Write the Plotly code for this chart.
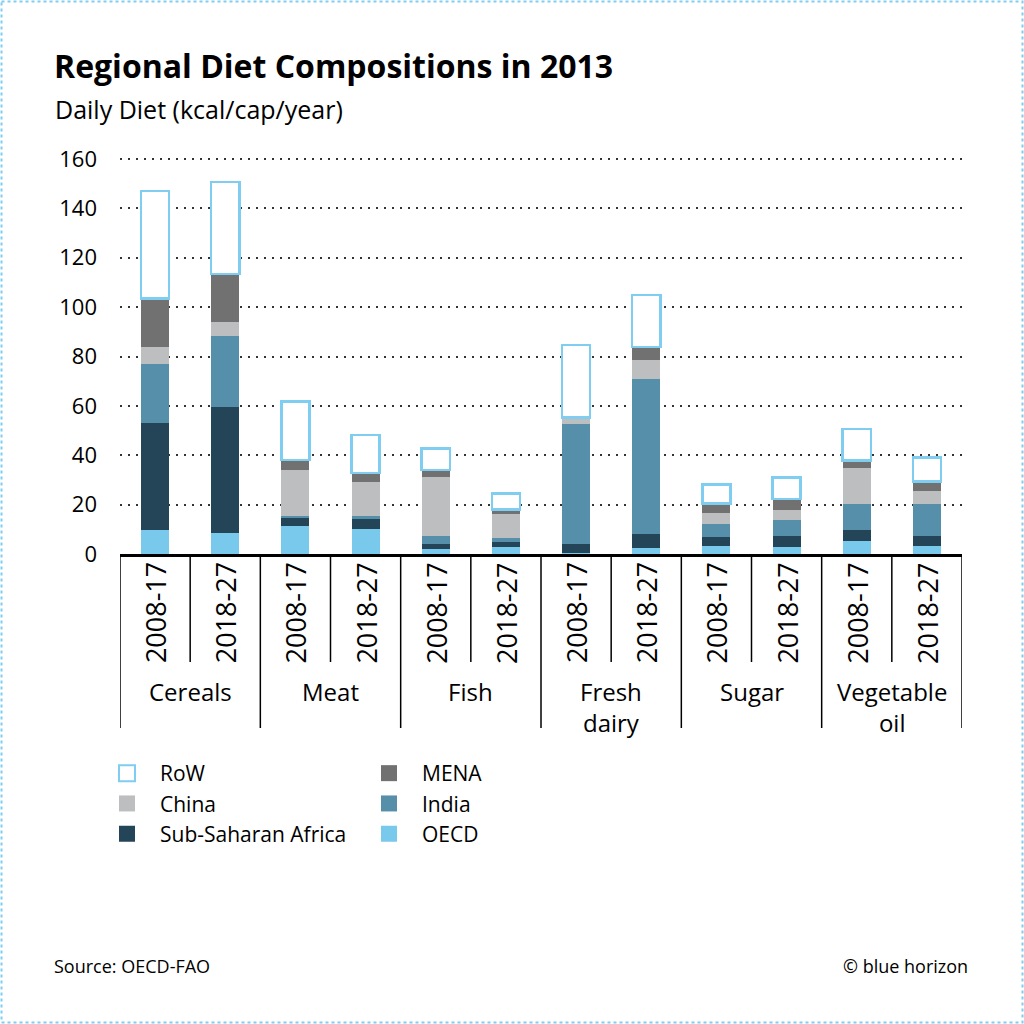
import plotly.graph_objects as go

categories = ["Cereals", "Meat", "Fish", "Fresh dairy", "Sugar", "Vegetable oil"]
category_labels = ["Cereals", "Meat", "Fish", "Fresh<br>dairy", "Sugar", "Vegetable<br>oil"]
periods = ["2008-17", "2018-27"]

# kcal/cap/year, order: each category x (2008-17, 2018-27)
oecd = [9.7, 8.6, 11.3, 10.3, 1.9, 2.7, 0.6, 2.4, 3.2, 3.0, 5.3, 3.2]
ssa = [43.5, 50.8, 3.6, 3.7, 2.1, 2.3, 3.4, 5.7, 3.6, 4.4, 4.3, 4.2]
india = [23.6, 28.9, 0.6, 1.5, 3.4, 1.6, 48.6, 62.9, 5.3, 6.4, 10.5, 12.7]
china = [6.9, 5.7, 18.5, 13.5, 23.6, 9.7, 2.6, 7.5, 4.4, 4.0, 14.6, 5.5]
mena = [19.8, 19.4, 4.0, 3.9, 3.0, 1.8, 0.0, 5.4, 4.0, 4.5, 3.1, 3.7]
row = [43.5, 37.3, 23.7, 15.3, 8.8, 6.5, 29.4, 21.0, 7.7, 8.7, 12.9, 9.7]

FONT = "Open Sans"
LIGHT_BLUE = "#7fcdf0"

x_keys = [c + " " + p for c in categories for p in periods]

# plot area in pixels (value 0 at y=554, value 160 at y=159)
L, R, T, B = 120, 962, 155, 554
W, H = 1024, 1024
Y_MAX = 160 * (B - T) / (B - 159)


def px(x):
    return (x - L) / (R - L)


def py(y):
    return (B - y) / (B - T)


series = [
    ("OECD", oecd, "#79c9ec", None),
    ("Sub-Saharan Africa", ssa, "#244457", None),
    ("India", india, "#568faa", None),
    ("China", china, "#bdbebf", None),
    ("MENA", mena, "#717171", None),
    ("RoW", row, "white", LIGHT_BLUE),
]

fig = go.Figure()
for name, vals, color, line in series:
    fig.add_trace(go.Bar(
        x=x_keys, y=vals, name=name, width=0.4, showlegend=False,
        marker=dict(color=color,
                    line=dict(color=line if line else color, width=2.5 if line else 0)),
    ))

# legend entries (two columns)
legend_layout = [
    ("RoW", "legend", 1), ("China", "legend", 2), ("Sub-Saharan Africa", "legend", 3),
    ("MENA", "legend2", 1), ("India", "legend2", 2), ("OECD", "legend2", 3),
]
colors = {s[0]: (s[2], s[3]) for s in series}
for name, leg, rank in legend_layout:
    fill, line = colors[name]
    fig.add_trace(go.Scatter(
        x=[None], y=[None], mode="markers", name=name, legend=leg, legendrank=rank,
        legendgroup=name,
        marker=dict(symbol="square", size=19, color=fill,
                    line=dict(color=line if line else fill, width=2 if line else 0)),
    ))

shapes = []
# group dividers and period dividers below the axis
for i in range(len(x_keys) + 1):
    long = i % 2 == 0
    shapes.append(dict(type="line", xref="x", yref="paper",
                       x0=i - 0.5, x1=i - 0.5, y0=0, y1=py(728 if long else 662),
                       line=dict(color="black", width=1.5)))
# dotted border
shapes.append(dict(type="rect", xref="paper", yref="paper",
                   x0=px(1.5), x1=px(1022.5), y0=py(1.5), y1=py(1022.5),
                   line=dict(color=LIGHT_BLUE, width=2, dash="dot")))

annotations = []
for k in x_keys:
    annotations.append(dict(x=k, y=py(613), xref="x", yref="paper", text=k.split(" ")[-1],
                            textangle=-90, showarrow=False, yanchor="middle",
                            font=dict(size=27, color="black", family=FONT)))
for j, lab in enumerate(category_labels):
    annotations.append(dict(x=2 * j + 0.5, y=py(673), xref="x", yref="paper", text=lab,
                            showarrow=False, yanchor="top",
                            font=dict(size=24, color="black", family=FONT)))

annotations += [
    dict(x=px(53), y=py(109), xref="paper", yref="paper", text="Daily Diet (kcal/cap/year)",
         showarrow=False, xanchor="left", yanchor="middle",
         font=dict(size=25, color="black", family=FONT)),
    dict(x=px(52), y=py(966), xref="paper", yref="paper", text="Source: OECD-FAO",
         showarrow=False, xanchor="left", yanchor="middle",
         font=dict(size=18, color="black", family=FONT)),
    dict(x=px(970), y=py(966), xref="paper", yref="paper", text="© blue horizon",
         showarrow=False, xanchor="right", yanchor="middle",
         font=dict(size=18, color="black", family=FONT)),
]

legend_common = dict(orientation="v", yanchor="top", xanchor="left", y=py(753),
                     font=dict(size=21, color="black", family=FONT),
                     bgcolor="rgba(0,0,0,0)", traceorder="grouped", tracegroupgap=0,
                     itemwidth=56, itemclick=False)

fig.update_layout(
    width=W, height=H,
    margin=dict(l=L, r=W - R, t=T, b=H - B),
    paper_bgcolor="white", plot_bgcolor="white",
    barmode="stack",
    font=dict(family=FONT, color="black"),
    title=dict(text="<b>Regional Diet Compositions in 2013</b>", xref="container", x=54 / W,
               xanchor="left", yref="container", y=1 - 67 / H, yanchor="middle",
               font=dict(size=32, color="black", family=FONT)),
    xaxis=dict(type="category", range=[-0.5, len(x_keys) - 0.5], showticklabels=False,
               showgrid=False, showline=True, linecolor="black", linewidth=2.5, ticks=""),
    yaxis=dict(range=[0, Y_MAX], tickvals=[0, 20, 40, 60, 80, 100, 120, 140, 160],
               showgrid=True, gridcolor="#333333", gridwidth=1.5,
               griddash="2px,6px", zeroline=False, showline=False, ticks="",
               ticklabelstandoff=22, tickfont=dict(size=22, color="black", family=FONT)),
    legend=dict(x=px(94), **legend_common),
    legend2=dict(x=px(356), **legend_common),
    shapes=shapes,
    annotations=annotations,
)

fig.write_html("out.html", config={"displayModeBar": False},
               post_script="document.body.style.margin='0';")
